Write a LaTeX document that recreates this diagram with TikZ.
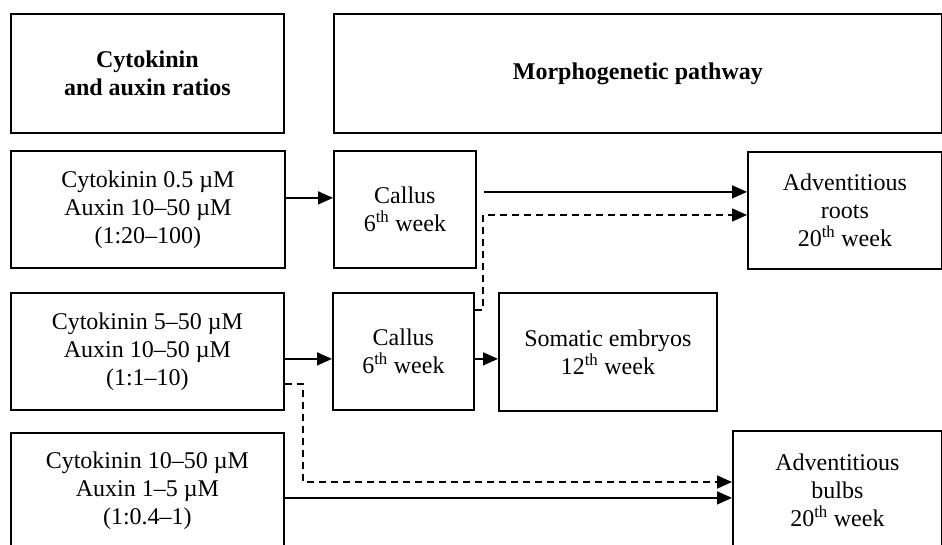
\documentclass[tikz,border=0pt]{standalone}
\usepackage{fontspec}
\setmainfont{Liberation Serif}
\usetikzlibrary{arrows.meta}
\begin{document}
\begin{tikzpicture}[x=1pt,y=-1pt,
  box/.style={draw, line width=1.8pt, inner sep=0pt, anchor=north west,
    align=center, font=\fontsize{24}{28}\selectfont},
  conn/.style={line width=1.6pt, -{Triangle[length=15pt,width=13pt]}},
  dconn/.style={conn, dash pattern=on 7pt off 5pt}]
\useasboundingbox (0,0) rectangle (942,545);
\clip (0,0) rectangle (942,545);
% header
\node[box, minimum width=273pt, minimum height=119pt] (h1) at (10,13) {\bfseries Cytokinin\\\bfseries and auxin ratios};
\node[box, minimum width=608pt, minimum height=119pt] (h2) at (333,13) {\bfseries Morphogenetic pathway};
% row 1
\node[box, minimum width=274pt, minimum height=117pt] (l1) at (10,150) {Cytokinin 0.5 µM\\Auxin 10–50 µM\\(1:20–100)};
\node[box, minimum width=142pt, minimum height=117pt] (c1) at (333,150) {Callus\\6\textsuperscript{th} week};
\node[box, minimum width=194pt, minimum height=117pt] (r1) at (747,151) {Adventitious\\roots\\20\textsuperscript{th} week};
% row 2
\node[box, minimum width=273pt, minimum height=117pt] (l2) at (10,292) {Cytokinin 5–50 µM\\Auxin 10–50 µM\\(1:1–10)};
\node[box, minimum width=141pt, minimum height=117pt] (c2) at (332,292) {Callus\\6\textsuperscript{th} week};
\node[box, minimum width=218pt, minimum height=118pt] (s) at (498,292) {Somatic embryos\\12\textsuperscript{th} week};
% row 3
\node[box, minimum width=273pt, minimum height=116pt] (l3) at (10,432) {Cytokinin 10–50 µM\\Auxin 1–5 µM\\(1:0.4–1)};
\node[box, minimum width=209pt, minimum height=118pt] (b) at (732,430) {Adventitious\\bulbs\\20\textsuperscript{th} week};
% connectors
\draw[conn] ([yshift=11.5pt]l1.east) -- ([yshift=11.5pt]c1.west);
\coordinate (a2s) at ([xshift=7pt,yshift=17.5pt]c1.east);
\draw[conn] (a2s) -- (a2s -| r1.west);
\coordinate (d1a) at ([yshift=41.5pt]c2.east);
\coordinate (d1t) at (483,215);
\draw[dconn] (d1a) -| (d1t) -- (d1t -| r1.west);
\draw[conn] ([yshift=-7.5pt]l2.east) -- ([yshift=-7.5pt]c2.west);
\coordinate (a4s) at ([yshift=-7.5pt]c2.east);
\draw[conn] (a4s) -- (a4s -| s.west);
\coordinate (d2a) at ([yshift=-32.5pt]l2.east);
\coordinate (d2t) at (303,482);
\draw[dconn] (d2a) -| (d2t) -- (d2t -| b.west);
\coordinate (a5s) at ([yshift=-7pt]l3.east);
\draw[conn] (a5s) -- (a5s -| b.west);
\end{tikzpicture}
\end{document}
